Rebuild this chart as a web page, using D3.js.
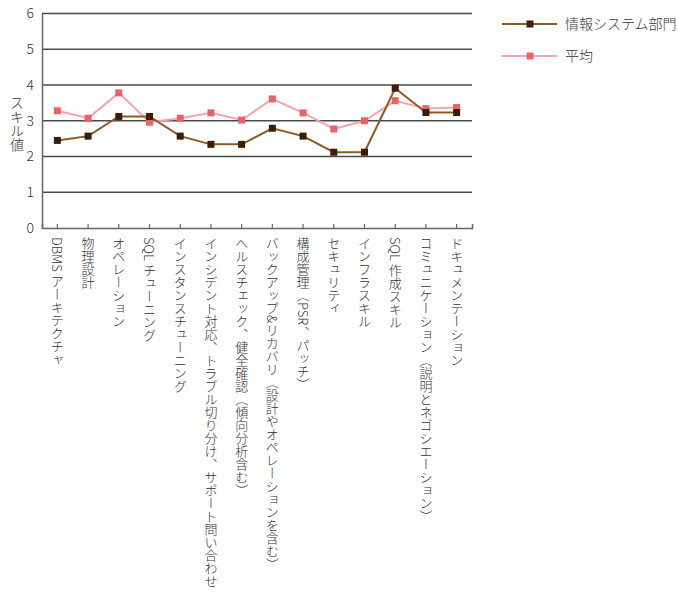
<!DOCTYPE html>
<html><head><meta charset="utf-8">
<script src="https://cdn.jsdelivr.net/npm/d3@7"></script>
<style>
body{margin:0;background:#fff;}
text{font-family:"Noto Sans CJK JP","Noto Sans",sans-serif;fill:#333;font-weight:300;}
</style></head>
<body><svg id="c" width="678" height="600"></svg>
<script>
const categories = ["DBMS アーキテクチャ","物理設計","オペレーション","SQL チューニング","インスタンスチューニング","インシデント対応、トラブル切り分け、サポート問い合わせ","ヘルスチェック、健全確認（傾向分析含む）","バックアップ&リカバリ（設計やオペレーションを含む）","構成管理（PSR、パッチ）","セキュリティ","インフラスキル","SQL 作成スキル","コミュニケーション（説明とネゴシエーション）","ドキュメンテーション"];
const deptValues = [2.45,2.57,3.12,3.12,2.57,2.34,2.34,2.79,2.57,2.12,2.12,3.91,3.23,3.23];
const avgValues  = [3.28,3.07,3.78,2.96,3.07,3.22,3.02,3.61,3.22,2.77,3.00,3.56,3.34,3.37];
const yTicks = [0,1,2,3,4,5,6];
const seriesNames = ["情報システム部門","平均"];

const svg = d3.select("#c");
const L=42,R=472,T=13.5,B=228;
const x = d3.scaleBand().domain(categories).range([L,R]).padding(0);
const y = d3.scaleLinear().domain([0,6]).range([B,T]);

// gridlines
svg.append("g").selectAll("line").data(yTicks.filter(d=>d>0)).join("line")
  .attr("x1",L).attr("x2",R).attr("y1",d=>y(d)).attr("y2",d=>y(d))
  .attr("stroke","#4a4a4a").attr("stroke-width",1.5);

// y axis
const ya = svg.append("g").attr("transform",`translate(${L},0)`)
  .call(d3.axisLeft(y).tickValues(yTicks).tickSize(0).tickPadding(8).tickFormat(d3.format("d")));
ya.select(".domain").attr("stroke","#666").attr("stroke-width",1.5);
ya.selectAll("text").attr("font-size",14).style("fill","#333");

// x axis
const xa = svg.append("g").attr("transform",`translate(0,${B})`)
  .call(d3.axisBottom(x).tickSize(-4).tickFormat(""));
xa.select(".domain").attr("stroke","#666").attr("stroke-width",1.5);
xa.selectAll(".tick line").attr("stroke","#666").attr("stroke-width",1.2);

// x labels vertical
svg.append("g").selectAll("text").data(categories).join("text")
  .attr("x",d=>x(d)+x.bandwidth()/2).attr("y",B+9)
  .style("writing-mode","vertical-rl")
  .style("font-size","13px")
  .text(d=>d);

// y title
svg.append("text").attr("x",17).attr("y",96)
  .style("writing-mode","vertical-rl").style("font-size","14px").text("スキル値");

const series = [
  {name:seriesNames[1], values:avgValues, line:"#f4a3b3", mark:"#ea6262"},
  {name:seriesNames[0], values:deptValues, line:"#8e5a24", mark:"#3e1c0a"}
];
const line = d3.line().x((d,i)=>x(categories[i])+x.bandwidth()/2).y(d=>y(d));
series.forEach(s=>{
  svg.append("path").datum(s.values).attr("d",line).attr("fill","none")
    .attr("stroke",s.line).attr("stroke-width",2);
  svg.append("g").selectAll("rect").data(s.values).join("rect")
    .attr("x",(d,i)=>x(categories[i])+x.bandwidth()/2-3.5).attr("y",d=>y(d)-3.5)
    .attr("width",7).attr("height",7).attr("fill",s.mark);
});

// legend
const leg = [
  {name:seriesNames[0], line:"#8e5a24", mark:"#3e1c0a", y:24},
  {name:seriesNames[1], line:"#f4a3b3", mark:"#ea6262", y:56}
];
leg.forEach(l=>{
  svg.append("line").attr("x1",502).attr("x2",557).attr("y1",l.y).attr("y2",l.y)
    .attr("stroke",l.line).attr("stroke-width",2);
  svg.append("rect").attr("x",526.5).attr("y",l.y-3.5).attr("width",7).attr("height",7).attr("fill",l.mark);
  svg.append("text").attr("x",565).attr("y",l.y).attr("dy","0.35em").style("font-size","14px").text(l.name);
});
</script></body></html>
